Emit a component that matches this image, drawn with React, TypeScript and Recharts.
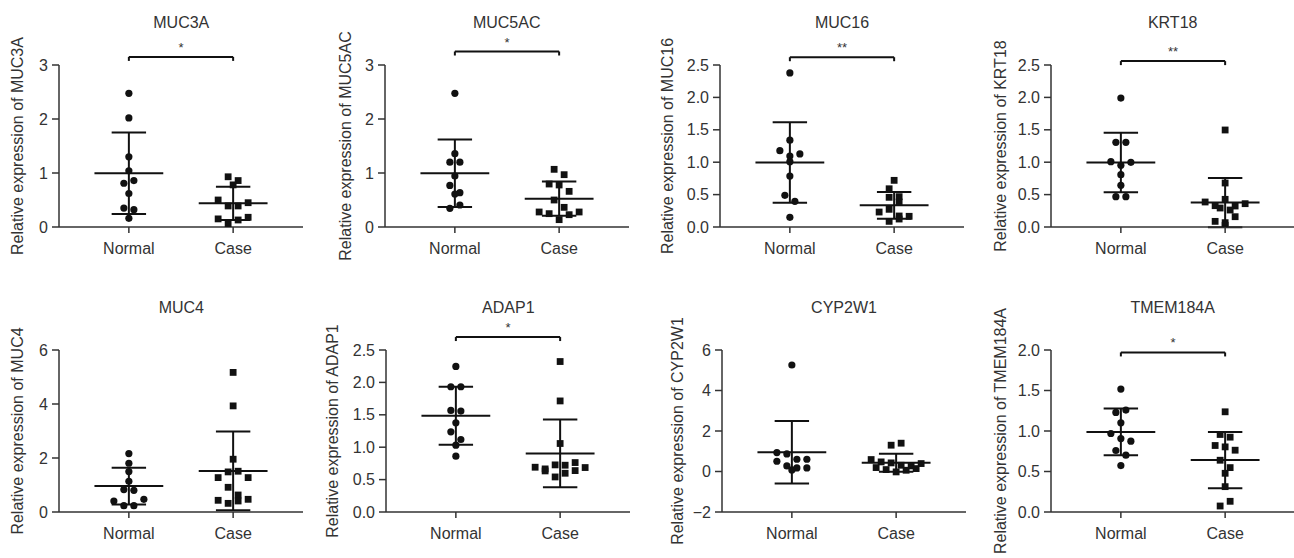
import { ComposedChart, Scatter, XAxis, YAxis, ReferenceLine } from 'recharts';

const groups = ['Normal', 'Case'];
const genes = ['MUC3A', 'MUC5AC', 'MUC16', 'KRT18', 'MUC4', 'ADAP1', 'CYP2W1', 'TMEM184A'];

// relative expression values
const muc3aNormal = [2.475, 2.02, 1.3, 1.04, 0.81, 0.86, 0.62, 0.35, 0.32, 0.16];
const muc3aCase = [0.93, 0.78, 0.86, 0.5, 0.39, 0.39, 0.45, 0.15, 0.055, 0.13, 0.18];
const muc5acNormal = [2.475, 1.358, 1.2, 1.2, 0.944, 0.77, 0.636, 0.611, 0.346, 0.407];
const muc5acCase = [1.068, 0.969, 0.796, 0.778, 0.66, 0.5, 0.364, 0.278, 0.247, 0.136, 0.228, 0.278];
const muc16Normal = [2.377, 1.34, 1.178, 1.096, 1.127, 1.008, 0.787, 0.489, 0.396, 0.149];
const muc16Case = [0.72, 0.59, 0.458, 0.468, 0.386, 0.231, 0.273, 0.17, 0.087, 0.123, 0.165];
const krt18Normal = [1.99, 1.307, 1.307, 1.008, 0.952, 0.998, 0.808, 0.643, 0.468, 0.468];
const krt18Case = [1.497, 0.679, 0.386, 0.329, 0.293, 0.427, 0.262, 0.324, 0.36, 0.087, 0.026, 0.067, 0.159];
const muc4Normal = [2.165, 1.806, 1.497, 1.138, 0.829, 0.804, 0.408, 0.235, 0.235, 0.47];
const muc4Case = [5.17, 3.93, 1.955, 1.274, 1.485, 1.51, 1.274, 0.915, 0.63, 0.433, 0.32, 0.408, 0.47];
const adap1Normal = [2.247, 1.933, 1.933, 1.567, 1.557, 1.376, 1.237, 1.119, 1.031, 0.861];
const adap1Case = [2.322, 1.714, 1.057, 0.691, 0.665, 0.727, 0.634, 0.722, 0.541, 0.598, 0.763, 0.639, 0.686];
const cyp2w1Normal = [5.26, 0.936, 0.87, 0.507, 0.606, 0.606, 0.276, 0.177, 0.078, 0.177];
const cyp2w1Case = [1.299, 1.398, 0.59, 0.474, 0.425, 0.309, 0.194, 0.095, -0.02, 0.062, 0.144, 0.276, 0.392];
const tmem184aNormal = [1.517, 1.229, 1.258, 1.101, 0.969, 0.907, 0.874, 0.759, 0.701, 0.573];
const tmem184aCase = [1.237, 0.957, 0.924, 0.821, 0.804, 0.763, 0.639, 0.548, 0.478, 0.313, 0.074, 0.132];

const normalValues = [muc3aNormal, muc5acNormal, muc16Normal, krt18Normal, muc4Normal, adap1Normal, cyp2w1Normal, tmem184aNormal];
const caseValues = [muc3aCase, muc5acCase, muc16Case, krt18Case, muc4Case, adap1Case, cyp2w1Case, tmem184aCase];

const yDomains = [[0, 3], [0, 3], [0, 2.5], [0, 2.5], [0, 6], [0, 2.5], [-2, 6], [0, 2]];
const yTicks = [
  [0, 1, 2, 3],
  [0, 1, 2, 3],
  [0, 0.5, 1, 1.5, 2, 2.5],
  [0, 0.5, 1, 1.5, 2, 2.5],
  [0, 2, 4, 6],
  [0, 0.5, 1, 1.5, 2, 2.5],
  [-2, 0, 2, 4, 6],
  [0, 0.5, 1, 1.5, 2],
];
const yDecimals = [0, 0, 1, 1, 0, 1, 0, 1];
const significance = ['*', '*', '**', '**', '', '*', '', '*'];
const bracketLevel = [3.15, 3.25, 2.62, 2.56, 0, 2.7, 0, 1.97];

// layout
const FONT = '"Liberation Sans", Arial, Helvetica, sans-serif';
const TEXT = '#333';
const INK = '#111';
const PLOT_W = 244;
const PLOT_H = 162;
const Y_W = 62;
const X_DOMAIN: [number, number] = [0.33, 2.67];
const axisX = [59.3, 384.7, 720, 1050.7, 59.3, 386.3, 722, 1050.7];
const labelGap = [41, 39, 52, 50, 41, 53, 44, 50];
const rowTop = [0, 279];
const plotTop = [65, 71];

function mean(v: number[]) {
  return v.reduce((a, b) => a + b, 0) / v.length;
}
function sd(v: number[]) {
  const m = mean(v);
  return Math.sqrt(v.reduce((a, b) => a + (b - m) * (b - m), 0) / (v.length - 1));
}

// simple row-based swarm, like a scatter dot plot
function swarm(values: number[], center: number, rowGap: number, step: number) {
  const order = values.map((_, i) => i).sort((a, b) => values[b] - values[a]);
  const rows: number[][] = [];
  let cur: number[] = [];
  order.forEach((i) => {
    if (cur.length && values[cur[0]] - values[i] < rowGap) cur.push(i);
    else {
      if (cur.length) rows.push(cur);
      cur = [i];
    }
  });
  if (cur.length) rows.push(cur);
  const pts: { x: number; y: number }[] = [];
  rows.forEach((row) => {
    row.sort((a, b) => a - b);
    row.forEach((i, k) => pts.push({ x: center + (k - (row.length - 1) / 2) * step, y: values[i] }));
  });
  return pts;
}

const Dot = (p: any) => <circle cx={p.cx} cy={p.cy} r={3.6} fill={INK} />;
const Square = (p: any) => <rect x={p.cx - 3.4} y={p.cy - 3.4} width={6.8} height={6.8} fill={INK} />;

function statLines(values: number[], g: number) {
  const m = mean(values);
  const s = sd(values);
  const line = { stroke: INK, strokeWidth: 2, ifOverflow: 'visible' as const };
  return [
    <ReferenceLine key={`m${g}`} segment={[{ x: g - 0.33, y: m }, { x: g + 0.33, y: m }]} {...line} />,
    <ReferenceLine key={`v${g}`} segment={[{ x: g, y: m - s }, { x: g, y: m + s }]} {...line} />,
    <ReferenceLine key={`t${g}`} segment={[{ x: g - 0.165, y: m + s }, { x: g + 0.165, y: m + s }]} {...line} />,
    <ReferenceLine key={`b${g}`} segment={[{ x: g - 0.165, y: m - s }, { x: g + 0.165, y: m - s }]} {...line} />,
  ];
}

function Panel({ i }: { i: number }) {
  const row = i < 4 ? 0 : 1;
  const [yMin, yMax] = yDomains[i];
  const unitsPerPx = (yMax - yMin) / PLOT_H;
  const step = (10 * (X_DOMAIN[1] - X_DOMAIN[0])) / PLOT_W;
  const normalPts = swarm(normalValues[i], 1, 8 * unitsPerPx, step);
  const casePts = swarm(caseValues[i], 2, 8 * unitsPerPx, step);
  const top = rowTop[row];
  const pTop = plotTop[row];
  const plotMid = top + pTop + PLOT_H / 2;
  const fmt = (v: number) => {
    const s = Math.abs(v).toFixed(yDecimals[i]);
    return v < 0 ? '\u2212' + s : s;
  };
  const b = bracketLevel[i];
  const tick = 4 * unitsPerPx;

  return (
    <>
      <div
        style={{
          position: 'absolute',
          left: axisX[i] + PLOT_W / 2 - 100,
          width: 200,
          top: top + pTop - 52,
          textAlign: 'center',
          fontSize: 16,
          lineHeight: '20px',
          color: TEXT,
        }}
      >
        {genes[i]}
      </div>
      <div
        style={{
          position: 'absolute',
          left: axisX[i] - labelGap[i] - 150,
          width: 300,
          top: plotMid - 10,
          textAlign: 'center',
          fontSize: 16,
          lineHeight: '20px',
          color: TEXT,
          transform: 'rotate(-90deg)',
          whiteSpace: 'nowrap',
        }}
      >
        Relative expression of {genes[i]}
      </div>
      <div style={{ position: 'absolute', left: axisX[i] - Y_W, top }}>
        <ComposedChart
          width={Y_W + PLOT_W + 6}
          height={279}
          margin={{ top: pTop, right: 6, bottom: 279 - pTop - PLOT_H - 30, left: 0 }}
        >
          <XAxis
            type="number"
            dataKey="x"
            domain={X_DOMAIN}
            allowDataOverflow
            ticks={[1, 2]}
            tickFormatter={(v: number) => groups[v - 1]}
            height={30}
            tickSize={6}
            tickMargin={10}
            stroke="#333"
            strokeWidth={1.5}
            tick={{ fill: TEXT, fontSize: 16 }}
          />
          <YAxis
            type="number"
            dataKey="y"
            domain={[yMin, yMax]}
            allowDataOverflow
            ticks={yTicks[i]}
            tickFormatter={fmt}
            width={Y_W}
            tickSize={7}
            tickMargin={4}
            stroke="#333"
            strokeWidth={1.5}
            tick={{ fill: TEXT, fontSize: 16 }}
          />
          {statLines(normalValues[i], 1)}
          {statLines(caseValues[i], 2)}
          <Scatter data={normalPts} shape={Dot} isAnimationActive={false} />
          <Scatter data={casePts} shape={Square} isAnimationActive={false} />
          {significance[i] && (
            <ReferenceLine
              segment={[{ x: 1, y: b }, { x: 2, y: b }]}
              stroke={INK}
              strokeWidth={2}
              ifOverflow="visible"
              label={{ value: significance[i], position: 'top', offset: 5, fill: TEXT, fontSize: 13 }}
            />
          )}
          {significance[i] && (
            <ReferenceLine segment={[{ x: 1, y: b }, { x: 1, y: b - tick }]} stroke={INK} strokeWidth={2} ifOverflow="visible" />
          )}
          {significance[i] && (
            <ReferenceLine segment={[{ x: 2, y: b }, { x: 2, y: b - tick }]} stroke={INK} strokeWidth={2} ifOverflow="visible" />
          )}
        </ComposedChart>
      </div>
    </>
  );
}

export default function App() {
  return (
    <div
      style={{
        position: 'absolute',
        left: 0,
        top: 0,
        width: 1294,
        height: 558,
        background: '#fff',
        fontFamily: FONT,
        overflow: 'hidden',
      }}
    >
      {genes.map((g, i) => (
        <Panel key={g} i={i} />
      ))}
    </div>
  );
}
